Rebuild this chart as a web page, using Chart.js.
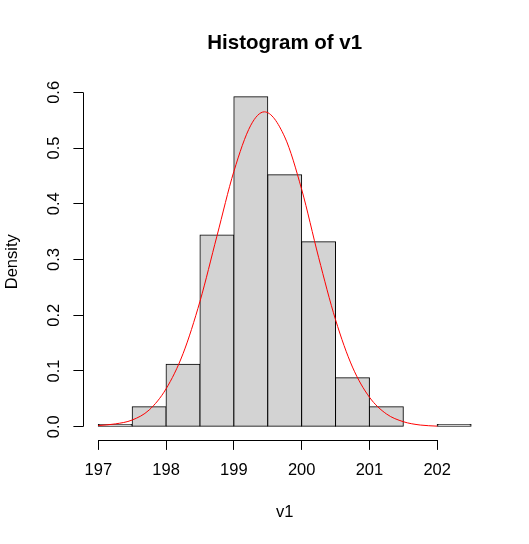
<!DOCTYPE html>
<html>
<head>
<meta charset="utf-8">
<title>Histogram of v1</title>
<script src="https://cdn.jsdelivr.net/npm/chart.js@4.4.1/dist/chart.umd.min.js"></script>
<style>
  html, body { margin: 0; padding: 0; background: #fff; }
  #wrap { width: 529px; height: 544px; }
</style>
</head>
<body>
<div id="wrap"><canvas id="histChart"></canvas></div>
<script>
// histogram of v1: bin breaks and densities
const breaks = [197, 197.5, 198, 198.5, 199, 199.5, 200, 200.5, 201, 201.5, 202, 202.5];
const densities = [0.004, 0.036, 0.112, 0.344, 0.592, 0.452, 0.332, 0.088, 0.036, 0, 0.004];

// red density curve
const curveX = [197, 197.25, 197.5, 197.75, 198, 198.25, 198.5, 198.75, 199, 199.25, 199.45,
                199.75, 200, 200.25, 200.5, 200.75, 201, 201.25, 201.5, 201.75, 202];
const curveY = [0.002, 0.005, 0.012, 0.030, 0.068, 0.131, 0.225, 0.342, 0.458, 0.541, 0.565,
                0.520, 0.426, 0.304, 0.192, 0.107, 0.053, 0.023, 0.009, 0.003, 0.001];

// axis ticks
const xTicks = [197, 198, 199, 200, 201, 202];
const yTicks = [0, 0.1, 0.2, 0.3, 0.4, 0.5, 0.6];

// bin centres for the bars
const mids = densities.map((d, i) => (breaks[i] + breaks[i + 1]) / 2);

Chart.defaults.font.family = '"Liberation Sans", Arial, sans-serif';
Chart.defaults.color = '#000';

// R draws its axis line only from the first to the last tick
const rAxisLines = {
    id: 'rAxisLines',
    afterDraw(chart) {
        const ctx = chart.ctx;
        const xs = chart.scales.x, ys = chart.scales.y;
        const area = chart.chartArea;
        const by = Math.round(area.bottom) + 0.5;
        const lx = Math.round(area.left) + 0.5;
        ctx.save();
        ctx.strokeStyle = '#000';
        ctx.lineWidth = 1;
        ctx.beginPath();
        ctx.moveTo(xs.getPixelForValue(xTicks[0]), by);
        ctx.lineTo(xs.getPixelForValue(xTicks[xTicks.length - 1]), by);
        ctx.moveTo(lx, ys.getPixelForValue(yTicks[0]));
        ctx.lineTo(lx, ys.getPixelForValue(yTicks[yTicks.length - 1]));
        ctx.stroke();
        ctx.restore();
    }
};

// centre the main title over the plot region, not the whole canvas
const centreTitle = {
    id: 'centreTitle',
    afterLayout(chart) {
        if (chart.titleBlock) {
            chart.titleBlock.left = chart.chartArea.left;
            chart.titleBlock.right = chart.chartArea.right;
        }
    }
};

const gridOpts = {
    display: true,
    offset: false,
    drawOnChartArea: false,
    drawTicks: true,
    tickLength: 10,
    color: '#000',
    lineWidth: 1
};

const ctx = document.getElementById('histChart').getContext('2d');
new Chart(ctx, {
    type: 'bar',
    data: {
        datasets: [{
            type: 'line',
            label: 'curve',
            data: curveX.map((x, i) => ({ x: x, y: curveY[i] })),
            borderColor: '#FF0000',
            borderWidth: 1,
            pointRadius: 0,
            fill: false,
            cubicInterpolationMode: 'monotone',
            order: 0
        }, {
            type: 'bar',
            label: 'v1',
            data: mids.map((x, i) => ({ x: x, y: densities[i] })),
            backgroundColor: '#D3D3D3',
            borderColor: '#000',
            borderWidth: 1,
            borderSkipped: false,
            inflateAmount: 0.5,
            barPercentage: 1,
            categoryPercentage: 1,
            grouped: false,
            order: 1
        }]
    },
    options: {
        responsive: true,
        maintainAspectRatio: false,
        animation: false,
        events: [],
        layout: { padding: { left: 0, right: 43, top: 0, bottom: 0 } },
        scales: {
            x: {
                type: 'linear',
                min: 196.78,
                max: 202.72,
                offset: false,
                afterBuildTicks: s => { s.ticks = xTicks.map(v => ({ value: v })); },
                afterFit: s => { s.height = 104.1; },
                grid: gridOpts,
                border: { display: false },
                ticks: {
                    font: { size: 16.5 },
                    padding: 11,
                    maxRotation: 0,
                    autoSkip: false,
                    callback: v => String(v)
                },
                title: {
                    display: true,
                    text: 'v1',
                    font: { size: 16.5 },
                    padding: { top: 0, bottom: 22 }
                }
            },
            y: {
                type: 'linear',
                min: -0.02368,
                max: 0.61568,
                afterBuildTicks: s => { s.ticks = yTicks.map(v => ({ value: v })); },
                afterFit: s => { s.width = 83.4; },
                grid: gridOpts,
                border: { display: false },
                ticks: {
                    font: { size: 16.5 },
                    minRotation: 90,
                    maxRotation: 90,
                    crossAlign: 'center',
                    padding: 7,
                    callback: v => v.toFixed(1)
                },
                title: {
                    display: true,
                    text: 'Density',
                    font: { size: 16.5 },
                    padding: { top: 3, bottom: 0 }
                }
            }
        },
        plugins: {
            legend: { display: false },
            tooltip: { enabled: false },
            title: {
                display: true,
                text: 'Histogram of v1',
                font: { size: 20.5, weight: 'bold' },
                padding: { top: 30.7, bottom: 28.3 }
            }
        }
    },
    plugins: [rAxisLines, centreTitle]
});
</script>
</body>
</html>
